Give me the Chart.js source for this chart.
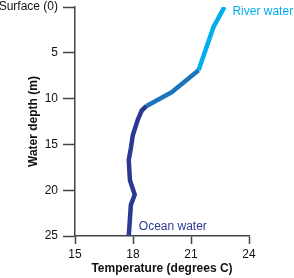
<!DOCTYPE html>
<html>
<head>
<meta charset="utf-8">
<script src="https://cdn.jsdelivr.net/npm/chart.js@4/dist/chart.umd.min.js"></script>
<style>
  html, body { margin: 0; padding: 0; background: #fff; }
  #wrap { width: 294px; height: 278px; }
</style>
</head>
<body>
<div id="wrap"><canvas id="myChart"></canvas></div>
<script>
// Temperature profile (surface first)
const temps  = [22.73, 22.16, 21.39, 20.0, 18.7, 18.45, 18.25, 17.99, 17.89, 17.78, 17.84, 18.09, 17.89, 17.78];
const depths = [0, 2.2, 6.9, 9.3, 10.8, 11.3, 12.3, 14.0, 15.4, 16.7, 18.9, 20.5, 21.6, 25];
const xTicks = [15, 18, 21, 24];
const yTicks = [0, 5, 10, 15, 20, 25];

const riverColor = '#00aeef';
const midColor = '#1c75bc';
const oceanColor = '#2b3990';
const axisColor = '#444444';
const font = "'Liberation Sans', Arial, sans-serif";

// pick the colour of a segment by where it starts
function segColor(ctx) {
    const i = ctx.p0DataIndex;
    if (i < 2) return riverColor;
    if (i < 4) return midColor;
    return oceanColor;
}

// text labels and the y title
const labelPlugin = {
    id: 'labels',
    afterDraw(chart) {
        const c = chart.ctx;
        const x = chart.scales.x;
        const y = chart.scales.y;
        c.save();
        c.font = '12px ' + font;
        c.textBaseline = 'middle';
        c.textAlign = 'left';
        c.fillStyle = riverColor;
        c.fillText('River water', x.getPixelForValue(temps[0]) + 8, y.getPixelForValue(0) + 5);
        c.fillStyle = oceanColor;
        c.fillText('Ocean water', x.getPixelForValue(18.3), y.getPixelForValue(24));
        // y axis title
        c.fillStyle = '#111';
        c.font = 'bold 12px ' + font;
        c.textAlign = 'center';
        c.translate(34, (chart.chartArea.top + chart.chartArea.bottom) / 2);
        c.rotate(-Math.PI / 2);
        c.fillText('Water depth (m)', 0, 0);
        c.restore();
    }
};

const data1 = {
    datasets: [{
        data: temps.map((t, i) => ({ x: t, y: depths[i] })),
        borderColor: oceanColor,
        borderWidth: 4.5,
        pointRadius: 0,
        tension: 0,
        borderJoinStyle: 'round',
        segment: { borderColor: segColor }
    }]
};

const config1 = {
    type: 'line',
    data: data1,
    options: {
        responsive: true,
        maintainAspectRatio: false,
        animation: false,
        layout: { padding: { top: 7, right: 45, left: 0, bottom: 0 } },
        plugins: {
            legend: { display: false },
            tooltip: { enabled: false }
        },
        scales: {
            x: {
                type: 'linear',
                min: 15,
                max: 24,
                afterBuildTicks: (s) => { s.ticks = xTicks.map(v => ({ value: v })); },
                afterFit: (s) => { s.height = 42; },
                border: { color: axisColor, width: 1.5 },
                grid: { drawOnChartArea: false, tickLength: 8, color: axisColor, tickWidth: 1.5 },
                ticks: { color: '#111', font: { family: font, size: 12 }, padding: 3, maxRotation: 0 },
                title: { display: true, text: 'Temperature (degrees C)', color: '#111',
                         font: { family: font, size: 12, weight: 'bold' }, padding: { top: 0, bottom: 2 } }
            },
            y: {
                type: 'linear',
                reverse: true,
                min: 0,
                max: 25,
                afterBuildTicks: (s) => { s.ticks = yTicks.map(v => ({ value: v })); },
                afterFit: (s) => { s.width = 75; s.paddingTop = 0; s.paddingBottom = 0; },
                border: { color: axisColor, width: 1.5 },
                grid: { drawOnChartArea: false, tickLength: 12, color: axisColor, tickWidth: 1.5 },
                ticks: {
                    color: '#111',
                    font: { family: font, size: 12 },
                    padding: 5,
                    callback: (v) => v === 0 ? 'Surface (0)' : v
                }
            }
        }
    },
    plugins: [labelPlugin]
};

const myChart1 = new Chart(document.getElementById('myChart'), config1);
</script>
</body>
</html>
